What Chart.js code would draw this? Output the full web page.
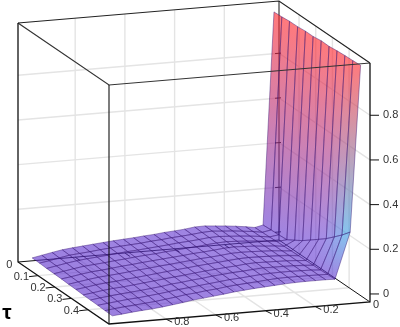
<!DOCTYPE html>
<html>
<head>
<meta charset="utf-8">
<style>
  html, body { margin: 0; padding: 0; background: #fff; }
  #chart { display: block; }
</style>
<script src="https://cdn.jsdelivr.net/npm/chart.js@4/dist/chart.umd.min.js"></script>
</head>
<body>
<canvas id="chart" width="400" height="327"></canvas>
<script>
// Data
const tauNodes = [0.02, 0.064, 0.107, 0.151, 0.195, 0.238, 0.282, 0.326, 0.369, 0.413, 0.456, 0.5];
const wallTopX = [0.027, 0.025, 0.023, 0.02, 0.018, 0.016, 0.013, 0.011, 0.008, 0.006, 0.003, 0.001];
const wallBaseX = [0.071, 0.068, 0.066, 0.063, 0.061, 0.058, 0.056, 0.053, 0.051, 0.048, 0.046, 0.043];
const wallTopZ = [1.01, 1.01, 1.012, 1.01, 1.012, 1.01, 1.013, 1.01, 1.012, 1.013, 1.012, 1.013];
const wallBaseZ = [0.06, 0.06, 0.06, 0.06, 0.08, 0.1, 0.125, 0.15, 0.175, 0.205, 0.235, 0.27];
const floorX = [0.104, 0.141, 0.182, 0.223, 0.264, 0.305, 0.346, 0.387, 0.428, 0.469, 0.51, 0.551,
  0.592, 0.633, 0.674, 0.715, 0.756, 0.797, 0.838, 0.879, 0.92, 0.961, 1.0];
const floorZ = [
  [.052, .059, .065, .070, .074, .078, .077, .071, .067, .064, .059, .056, .052, .049, .046, .042, .038, .034, .030, .025, .017, .008, .000],
  [.053, .060, .065, .070, .073, .077, .075, .070, .066, .063, .058, .055, .050, .047, .044, .040, .036, .031, .027, .023, .015, .006, -.001],
  [.054, .060, .065, .069, .072, .075, .074, .069, .065, .062, .057, .053, .049, .045, .042, .038, .033, .029, .025, .020, .013, .005, -.003],
  [.056, .061, .065, .069, .072, .074, .072, .068, .063, .060, .055, .052, .047, .044, .040, .035, .031, .026, .022, .018, .011, .003, -.004],
  [.057, .062, .065, .069, .071, .073, .071, .066, .062, .059, .054, .050, .046, .042, .038, .033, .029, .024, .019, .015, .009, .001, -.005],
  [.058, .062, .066, .068, .070, .071, .070, .065, .061, .058, .053, .049, .044, .040, .035, .031, .026, .021, .017, .013, .007, .000, -.007],
  [.059, .063, .066, .068, .069, .070, .068, .064, .060, .056, .052, .047, .043, .038, .033, .028, .023, .019, .014, .010, .005, -.002, -.008],
  [.060, .063, .066, .067, .068, .069, .067, .062, .059, .055, .051, .046, .041, .036, .031, .026, .021, .016, .011, .008, .003, -.004, -.010],
  [.061, .064, .066, .067, .067, .068, .065, .061, .058, .054, .050, .044, .040, .034, .030, .023, .018, .013, .009, .005, .000, -.005, -.011],
  [.062, .065, .066, .067, .067, .066, .064, .060, .056, .053, .048, .043, .038, .033, .028, .022, .016, .011, .006, .003, -.002, -.007, -.012],
  [.064, .065, .066, .066, .066, .065, .062, .058, .055, .051, .047, .041, .037, .031, .027, .020, .014, .008, .004, .000, -.004, -.009, -.014],
  [.065, .066, .066, .066, .065, .063, .060, .057, .054, .050, .046, .040, .035, .030, .025, .018, .012, .006, .001, -.002, -.006, -.011, -.015]
];

// Tick labels
const tauTicks = [0, 0.1, 0.2, 0.3, 0.4];
const xTicks = [0, 0.2, 0.4, 0.6, 0.8];
const zTicks = [0, 0.2, 0.4, 0.6, 0.8];

// Colour stops of the surface (z -> rgb)
const colorStopZ = [0, 0.17, 0.27, 1];
const colorStopRgb = [[95, 50, 205], [110, 70, 215], [50, 175, 230], [255, 40, 45]];
const FACE_ALPHA = 0.62;

// Axis box and its projection onto the page
const boxTau = [-0.02, 0.525];
const boxX = [-0.02, 1.03];
const boxZ = [-0.036, 1.034];
const ORIGIN = [279, 240];
const V_TAU = [91 / 0.545, 62 / 0.545];
const V_X = [-261 / 1.05, 22 / 1.05];
const V_Z = [0, -239 / 1.07];

function project(tau, x, z) {
    const a = tau - boxTau[0], b = x - boxX[0], c = z - boxZ[0];
    return {
        x: ORIGIN[0] + a * V_TAU[0] + b * V_X[0] + c * V_Z[0],
        y: ORIGIN[1] + a * V_TAU[1] + b * V_X[1] + c * V_Z[1]
    };
}

function zColor(z) {
    let k = 0;
    while (k < colorStopZ.length - 2 && z > colorStopZ[k + 1]) k++;
    const t = Math.max(0, Math.min(1, (z - colorStopZ[k]) / (colorStopZ[k + 1] - colorStopZ[k])));
    return colorStopRgb[k].map((v, n) => v + (colorStopRgb[k + 1][n] - v) * t);
}

function rgba(rgb, alpha) {
    return `rgba(${Math.round(rgb[0])},${Math.round(rgb[1])},${Math.round(rgb[2])},${alpha})`;
}

function mixRgb(p, q) {
    return p.map((v, n) => (v + q[n]) / 2);
}

// Surface nodes: two wall columns, then the floor columns
function nodeAt(i, j) {
    if (j === 0) return { tau: tauNodes[i], x: wallTopX[i], z: wallTopZ[i] };
    if (j === 1) return { tau: tauNodes[i], x: wallBaseX[i], z: wallBaseZ[i] };
    return { tau: tauNodes[i], x: floorX[j - 2], z: floorZ[i][j - 2] };
}

const datasets = [];

function addLine(points, color, width) {
    datasets.push({
        data: points,
        showLine: true,
        fill: false,
        tension: 0,
        borderColor: color,
        borderWidth: width,
        pointRadius: 0,
        clip: false
    });
}

function addCell(i, j) {
    const a = nodeAt(i, j), b = nodeAt(i + 1, j), c = nodeAt(i + 1, j + 1), d = nodeAt(i, j + 1);
    const corners = [a, b, c, d, a].map(n => project(n.tau, n.x, n.z));
    const colorA = mixRgb(zColor(a.z), zColor(b.z));
    const colorB = mixRgb(zColor(d.z), zColor(c.z));
    datasets.push({
        data: corners,
        showLine: true,
        fill: 'shape',
        tension: 0,
        borderColor: 'rgba(55,20,115,0.58)',
        borderWidth: 0.75,
        pointRadius: 0,
        clip: false,
        backgroundColor: (context) => {
            const chart = context.chart;
            if (!chart.chartArea) return rgba(colorA, FACE_ALPHA);
            const sx = chart.scales.x, sy = chart.scales.y;
            const x0 = sx.getPixelForValue((corners[0].x + corners[1].x) / 2);
            const y0 = sy.getPixelForValue((corners[0].y + corners[1].y) / 2);
            const x1 = sx.getPixelForValue((corners[2].x + corners[3].x) / 2);
            const y1 = sy.getPixelForValue((corners[2].y + corners[3].y) / 2);
            if (![x0, y0, x1, y1].every(Number.isFinite)) return rgba(colorA, FACE_ALPHA);
            const g = chart.ctx.createLinearGradient(x0, y0, x1, y1);
            g.addColorStop(0, rgba(colorA, FACE_ALPHA));
            g.addColorStop(1, rgba(colorB, FACE_ALPHA));
            return g;
        }
    });
}

const GRID = '#e4e4e4';
const EDGE = '#111';

// Back walls and floor grid
xTicks.slice(1).forEach(v => {
    addLine([project(boxTau[0], v, boxZ[0]), project(boxTau[0], v, boxZ[1])], GRID, 1.4);
    addLine([project(boxTau[0], v, boxZ[0]), project(boxTau[1], v, boxZ[0])], GRID, 1.4);
});
tauTicks.slice(1).forEach(v => {
    addLine([project(v, boxX[0], boxZ[0]), project(v, boxX[0], boxZ[1])], GRID, 1.4);
    addLine([project(v, boxX[0], boxZ[0]), project(v, boxX[1], boxZ[0])], GRID, 1.4);
});
zTicks.slice(1).forEach(v => {
    addLine([project(boxTau[0], boxX[1], v), project(boxTau[0], boxX[0], v), project(boxTau[1], boxX[0], v)], GRID, 1.4);
});

// Back edges of the box, seen through the surface
addLine([project(boxTau[0], boxX[1], boxZ[0]), project(boxTau[0], boxX[0], boxZ[0]), project(boxTau[1], boxX[0], boxZ[0])], EDGE, 1);
addLine([project(boxTau[0], boxX[0], boxZ[0]), project(boxTau[0], boxX[0], boxZ[1])], EDGE, 1);
zTicks.forEach(v => {
    addLine([project(boxTau[0], boxX[0] + 0.016, v), project(boxTau[0], boxX[0] - 0.008, v)], EDGE, 1);
});
xTicks.slice(1).forEach(v => {
    addLine([project(boxTau[0], v, boxZ[0]), project(boxTau[0] + 0.03, v, boxZ[0])], EDGE, 1);
});

// Surface, far cells first
for (let i = 0; i < tauNodes.length - 1; i++) {
    for (let j = 0; j < floorX.length + 1; j++) {
        addCell(i, j);
    }
}

// Front edges of the box
addLine([project(boxTau[0], boxX[1], boxZ[1]), project(boxTau[0], boxX[0], boxZ[1]), project(boxTau[1], boxX[0], boxZ[1])], '#222', 1.2);
addLine([project(boxTau[0], boxX[1], boxZ[1]), project(boxTau[1], boxX[1], boxZ[1]), project(boxTau[1], boxX[0], boxZ[1])], '#333', 1.2);
addLine([project(boxTau[0], boxX[1], boxZ[1]), project(boxTau[0], boxX[1], boxZ[0]), project(boxTau[1], boxX[1], boxZ[0]), project(boxTau[1], boxX[0], boxZ[0]), project(boxTau[1], boxX[0], boxZ[1])], EDGE, 1.3);
addLine([project(boxTau[1], boxX[1], boxZ[0]), project(boxTau[1], boxX[1], boxZ[1])], EDGE, 1.1);

// Axis ticks
zTicks.forEach(v => {
    const p = project(boxTau[1], boxX[0], v);
    addLine([p, { x: p.x + 9, y: p.y }], EDGE, 1);
});
tauTicks.slice(1).forEach(v => {
    const p = project(v, boxX[1], boxZ[0]);
    addLine([p, { x: p.x - 9, y: p.y + 1 }], EDGE, 1);
});
xTicks.slice(1).forEach(v => {
    const p = project(boxTau[1], v, boxZ[0]);
    addLine([p, { x: p.x + 6, y: p.y + 3 }], EDGE, 1);
});

// Chart.js paints the last dataset first
datasets.reverse();

// Axis labels are placed at the projected tick ends
const axisLabels = {
    id: 'axisLabels',
    afterDraw(chart) {
        const { ctx, scales } = chart;
        const put = (text, p, dx, dy, align) => {
            ctx.textAlign = align;
            ctx.fillText(text, scales.x.getPixelForValue(p.x) + dx, scales.y.getPixelForValue(p.y) + dy);
        };
        ctx.save();
        ctx.font = '11px "Liberation Sans"';
        ctx.fillStyle = '#333';
        ctx.textBaseline = 'middle';
        zTicks.forEach(v => put(String(v), project(boxTau[1], boxX[0], v), 13, 0, 'left'));
        tauTicks.forEach(v => put(String(v), project(v, boxX[1], boxZ[0]), -9, 1, 'right'));
        xTicks.forEach(v => put(String(v), project(boxTau[1], v, boxZ[0]), 8, 3, 'left'));
        ctx.font = 'bold 21px "Liberation Sans"';
        ctx.fillStyle = '#000';
        put('τ', { x: 7, y: 313 }, 0, 0, 'center');
        ctx.restore();
    }
};

new Chart(document.getElementById('chart'), {
    type: 'scatter',
    data: { datasets },
    plugins: [axisLabels],
    options: {
        responsive: false,
        animation: false,
        events: [],
        layout: { padding: 0 },
        plugins: { legend: { display: false }, tooltip: { enabled: false } },
        scales: {
            x: { type: 'linear', display: false, min: 0, max: 400 },
            y: { type: 'linear', display: false, min: 0, max: 327, reverse: true }
        }
    }
});
</script>
</body>
</html>
